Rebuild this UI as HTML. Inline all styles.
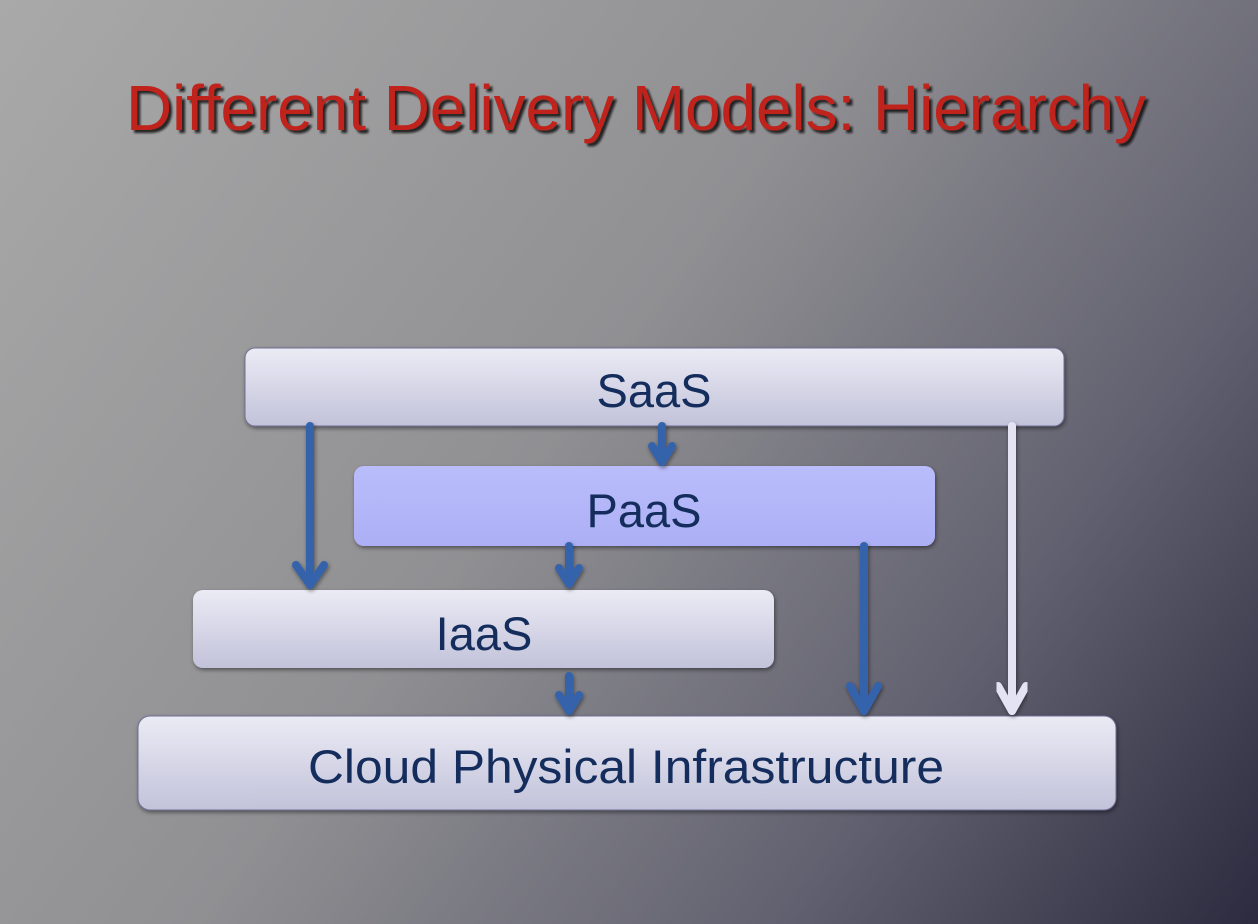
<!DOCTYPE html>
<html><head><meta charset="utf-8"><style>
html,body{margin:0;padding:0;width:1258px;height:924px;overflow:hidden}
svg{display:block}
text{font-family:"Liberation Sans",Arial,sans-serif}
</style></head><body>
<svg width="1258" height="924" viewBox="0 0 1258 924" xmlns="http://www.w3.org/2000/svg">
<defs>
<linearGradient id="bg" x1="0" y1="0" x2="1258" y2="924" gradientUnits="userSpaceOnUse">
<stop offset="0" stop-color="#a9a9a9"/>
<stop offset="0.45" stop-color="#909093"/>
<stop offset="0.75" stop-color="#626170"/>
<stop offset="1" stop-color="#2c2b3f"/>
</linearGradient>
<linearGradient id="box" x1="0" y1="0" x2="0" y2="1">
<stop offset="0" stop-color="#ebebf5"/>
<stop offset="1" stop-color="#c2c2da"/>
</linearGradient>
<linearGradient id="pbox" x1="0" y1="0" x2="0" y2="1">
<stop offset="0" stop-color="#babdfb"/>
<stop offset="1" stop-color="#acaff5"/>
</linearGradient>
<filter id="sh" x="-5%" y="-20%" width="110%" height="150%">
<feDropShadow dx="1" dy="2" stdDeviation="2" flood-color="#000" flood-opacity="0.45"/>
</filter>
<filter id="ts" x="-5%" y="-20%" width="110%" height="150%">
<feDropShadow dx="3" dy="3" stdDeviation="1" flood-color="#111" flood-opacity="0.85"/>
</filter>
</defs>
<rect width="1258" height="924" fill="url(#bg)"/>
<text x="636" y="130" text-anchor="middle" font-size="64" fill="#c0211b" filter="url(#ts)" textLength="1020" lengthAdjust="spacingAndGlyphs">Different Delivery Models: Hierarchy</text>

<g filter="url(#sh)">
<rect x="245" y="348" width="819" height="78" rx="10" fill="url(#box)" stroke="#6f6f95" stroke-width="1"/>
<rect x="354" y="466" width="581" height="80" rx="10" fill="url(#pbox)"/>
<rect x="193" y="590" width="581" height="78" rx="10" fill="url(#box)"/>
<rect x="138" y="716" width="978" height="94" rx="12" fill="url(#box)" stroke="#6f6f95" stroke-width="1"/>
</g>

<g fill="#142d5c" font-size="47">
<text x="654" y="407" text-anchor="middle">SaaS</text>
<text x="644" y="527" text-anchor="middle">PaaS</text>
<text x="484" y="650" text-anchor="middle">IaaS</text>
<text x="626" y="783" text-anchor="middle" textLength="636" lengthAdjust="spacingAndGlyphs">Cloud Physical Infrastructure</text>
</g>

<g stroke="#3663ab" stroke-width="8" fill="none" stroke-linecap="round" stroke-linejoin="round" filter="url(#sh)">
<line x1="310" y1="426" x2="310" y2="585"/><polyline points="296,565 310,585 324,565"/>
<line x1="662" y1="426" x2="662" y2="462"/><polyline points="652,446 662,462 672,446"/>
<line x1="569" y1="546" x2="569" y2="584"/><polyline points="559,568 569,584 579,568"/>
<line x1="569" y1="676" x2="569" y2="711"/><polyline points="559,695 569,711 579,695"/>
<line x1="864" y1="546" x2="864" y2="711"/><polyline points="850,686 864,711 878,686"/>
</g>
<g stroke="#e4e3f4" stroke-width="8" fill="none" stroke-linecap="round" stroke-linejoin="round" filter="url(#sh)">
<line x1="1012" y1="426" x2="1012" y2="711"/><polyline points="998,686 1012,711 1026,686"/>
</g>
</svg>
</body></html>
